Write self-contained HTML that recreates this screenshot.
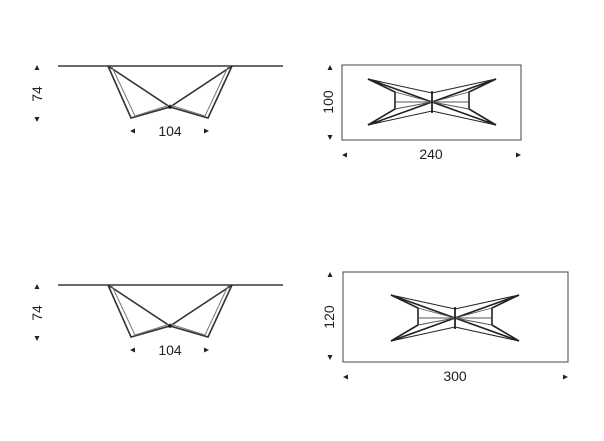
<!DOCTYPE html>
<html><head><style>
html,body{margin:0;padding:0;background:#fff;}
svg{display:block;}
text{font-family:"Liberation Sans","DejaVu Sans",sans-serif;fill:#222;font-size:14px;}
</style></head><body>
<svg width="604" height="441" viewBox="0 0 604 441" xmlns="http://www.w3.org/2000/svg">
<defs>
<g id="side">
  <line x1="58" y1="0" x2="283" y2="0" stroke="#555" stroke-width="1.8"/>
  <g fill="none" stroke="#333" stroke-width="1.6">
    <path d="M108 0 L170 41 L232 0"/>
    <path d="M108 0 L131 52 L170 41 L208 52 L232 0"/>
    <path d="M112 1 L135 50 L170 39 L205 50 L228 1" stroke="#777" stroke-width="1"/>
  </g>
  <circle cx="170" cy="41" r="1.8" fill="#111"/>
  <path d="M37 -1 l-2.5 5 h5z M37 56 l-2.5 -5 h5z" fill="#222"/>
  <text x="37" y="28" transform="rotate(-90 37 28)" text-anchor="middle" dominant-baseline="central">74</text>
  <path d="M130 65 l5 -2.5 v5z M209 65 l-5 -2.5 v5z" fill="#222"/>
  <text x="170" y="70" text-anchor="middle">104</text>
</g>
<g id="xplan" fill="none" stroke="#222" stroke-width="1.6">
  <path d="M-64 -23 L0 0 L64 -23 M-64 23 L0 0 L64 23"/>
  <path d="M-64 -23 L-37 -10 L-37 7 L-64 23 M64 -23 L37 -10 L37 7 L64 23"/>
  <path d="M-64 -23 L0 -9 L64 -23 M-64 23 L0 9 L64 23" stroke-width="1"/>
  <path d="M-37 -10 L0 0 L37 -10 M-37 7 L0 0 L37 7 M-37 0 L37 0" stroke-width="0.9" stroke="#555"/>
  <line x1="0" y1="-11" x2="0" y2="11" stroke-width="1.8"/>
</g>
</defs>
<use href="#side" transform="translate(0,66)"/>
<use href="#side" transform="translate(0,285)"/>

<rect x="342" y="65" width="179" height="75" fill="none" stroke="#444" stroke-width="1"/>
<use href="#xplan" transform="translate(432,102)"/>
<path d="M330 65 l-2.5 5 h5z M330 140 l-2.5 -5 h5z" fill="#222"/>
<text x="328" y="102" transform="rotate(-90 328 102)" text-anchor="middle" dominant-baseline="central">100</text>
<path d="M342 155 l5 -2.5 v5z M521 155 l-5 -2.5 v5z" fill="#222"/>
<text x="431" y="159" text-anchor="middle">240</text>

<rect x="343" y="272" width="225" height="90" fill="none" stroke="#444" stroke-width="1"/>
<use href="#xplan" transform="translate(455,318)"/>
<path d="M330 272 l-2.5 5 h5z M330 360 l-2.5 -5 h5z" fill="#222"/>
<text x="329" y="317" transform="rotate(-90 329 317)" text-anchor="middle" dominant-baseline="central">120</text>
<path d="M343 377 l5 -2.5 v5z M568 377 l-5 -2.5 v5z" fill="#222"/>
<text x="455" y="381" text-anchor="middle">300</text>
</svg>
</body></html>
